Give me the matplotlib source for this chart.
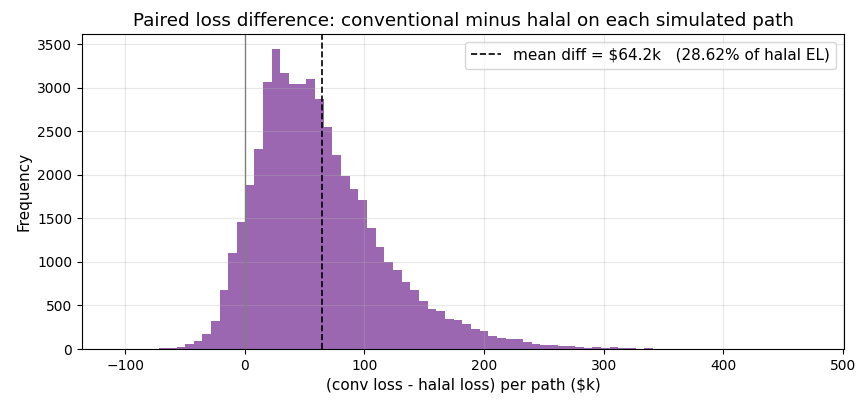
import numpy as np
import matplotlib
matplotlib.use("Agg")
import matplotlib.pyplot as plt

plt.rcParams["font.size"] = 11
plt.rcParams["xtick.labelsize"] = 10
plt.rcParams["ytick.labelsize"] = 10

# histogram bins ($k)
bin_start = -71.5
bin_width = 7.24
counts = [8, 14, 23, 61, 92, 172, 321, 681, 1102, 1457,
          1882, 2295, 3064, 3443, 3167, 3041, 3041, 3098, 2869, 2548,
          2226, 1989, 1836, 1710, 1389, 1170, 995, 907, 769, 677,
          551, 459, 436, 344, 333, 287, 230, 207, 149, 126,
          115, 115, 80, 57, 46, 46, 34, 30, 20, 11,
          20, 11, 20, 9, 9, 2, 11]
mean_diff = 64.2
pct_of_el = 28.62

edges = bin_start + bin_width * np.arange(len(counts) + 1)
centers = (edges[:-1] + edges[1:]) / 2

fig, ax = plt.subplots(figsize=(8.68, 4.07), dpi=100)
fig.subplots_adjust(left=0.0945, right=0.9724, top=0.9165, bottom=0.1425)

ax.hist(centers, bins=edges, weights=counts, color="#9b67b0")
ax.axvline(0, color="gray", linewidth=1)
ax.axvline(mean_diff, color="black", linestyle="--", linewidth=1.2,
           label=f"mean diff = ${mean_diff:.1f}k   ({pct_of_el:.2f}% of halal EL)")

ax.set_xlim(-136, 501)
ax.set_title("Paired loss difference: conventional minus halal on each simulated path")
ax.set_xlabel("(conv loss - halal loss) per path ($k)")
ax.set_ylabel("Frequency")
ax.grid(alpha=0.3)
ax.legend(loc="upper right")

fig.savefig("out.png", dpi=100)
